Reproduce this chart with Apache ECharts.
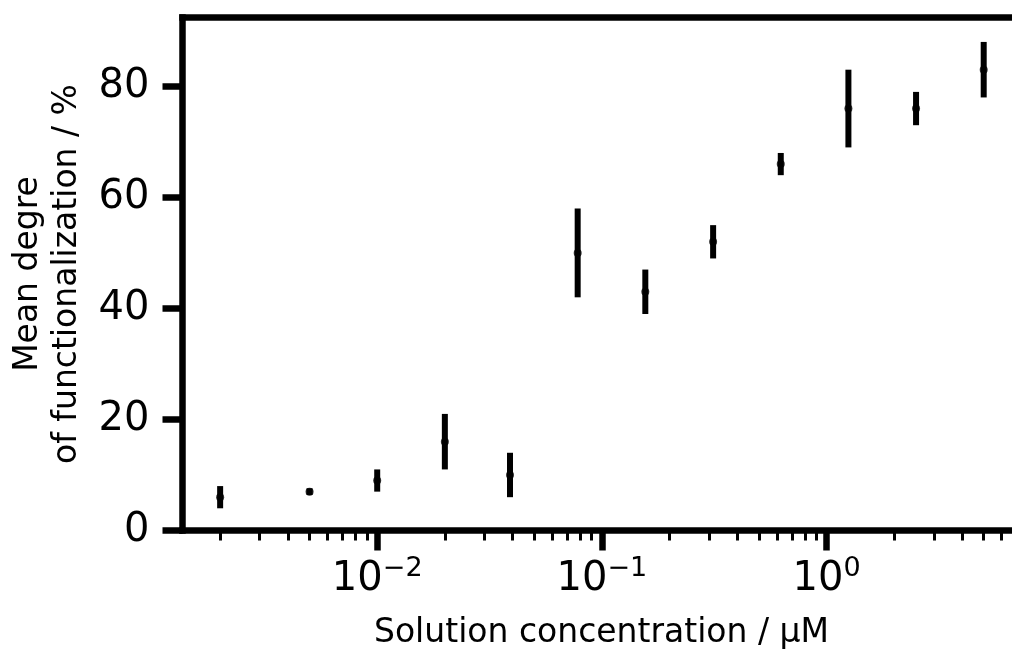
<!DOCTYPE html>
<html><head><meta charset="utf-8">
<script src="https://cdn.jsdelivr.net/npm/echarts@6/dist/echarts.min.js"></script>
<style>html,body{margin:0;padding:0;background:#fff}#c{width:1012px;height:652px}</style>
</head><body><div id="c"></div>
<script>
// Data
const concentrations = [0.002, 0.005, 0.01, 0.02, 0.039, 0.078, 0.156, 0.3125, 0.625, 1.25, 2.5, 5];
const meanDegree     = [6, 7, 9, 16, 10, 50, 43, 52, 66, 76, 76, 83];
const errorHalf      = [2, 0.6, 2, 5, 4, 8, 4, 3, 2, 7, 3, 5];
const xMajorTicks = [0.01, 0.1, 1];
const xMinorTicks = [0.002, 0.003, 0.004, 0.005, 0.006, 0.007, 0.008, 0.009,
                     0.02, 0.03, 0.04, 0.05, 0.06, 0.07, 0.08, 0.09,
                     0.2, 0.3, 0.4, 0.5, 0.6, 0.7, 0.8, 0.9,
                     2, 3, 4, 5, 6, 7];
const yTicks = [0, 20, 40, 60, 80];
const xRange = [0.00136, 7.29];
const yRange = [0, 92.4];
const xTitle = 'Solution concentration / μM';
const yTitle = 'Mean degre\nof functionalization / %';

const FONT = 'DejaVu Sans';
const BLACK = '#000';
const SPINE = 6.5;

const errData = concentrations.map((c, i) => [c, meanDegree[i] - errorHalf[i], meanDegree[i] + errorHalf[i]]);
const ptData = concentrations.map((c, i) => [c, meanDegree[i]]);

function sciLabel(v) {
  const e = Math.round(Math.log10(v));
  const s = e < 0 ? '\u2212' + (-e) : String(e);
  return '{b|10}{s|' + s + '}';
}

const chart = echarts.init(document.getElementById('c'), null, {renderer: 'canvas'});
chart.setOption({
  animation: false,
  backgroundColor: '#fff',
  grid: {left: 182.5, right: -8.5, top: 17.5, bottom: 652 - 530.5, containLabel: false,
         outerBoundsMode: 'none'},
  xAxis: [
    {
      type: 'log', logBase: 10, min: xRange[0], max: xRange[1], position: 'bottom',
      axisLine: {show: true, lineStyle: {color: BLACK, width: SPINE, cap: 'square'}},
      axisTick: {show: true, inside: false, length: 20, customValues: xMajorTicks,
                 lineStyle: {color: BLACK, width: 6.5}},
      minorTick: {show: false},
      splitLine: {show: false},
      axisLabel: {
        show: true, customValues: xMajorTicks, margin: 25, formatter: sciLabel,
        rich: {
          b: {fontFamily: FONT, fontSize: 40, color: BLACK, lineHeight: 44, verticalAlign: 'bottom'},
          s: {fontFamily: FONT, fontSize: 27, color: BLACK, lineHeight: 20, verticalAlign: 'top'}
        }
      },
      name: xTitle, nameLocation: 'middle', nameGap: 86,
      nameTextStyle: {fontFamily: FONT, fontSize: 33, color: BLACK, lineHeight: 33}
    },
    {
      type: 'log', logBase: 10, min: xRange[0], max: xRange[1], position: 'bottom',
      axisLine: {show: false},
      axisTick: {show: true, inside: false, length: 10, customValues: xMinorTicks,
                 lineStyle: {color: BLACK, width: 3}},
      axisLabel: {show: false},
      splitLine: {show: false}
    },
    {
      type: 'log', logBase: 10, min: xRange[0], max: xRange[1], position: 'top',
      axisLine: {show: true, lineStyle: {color: BLACK, width: SPINE, cap: 'square'}},
      axisTick: {show: false}, axisLabel: {show: false}, splitLine: {show: false}
    }
  ],
  yAxis: {
    type: 'value', min: yRange[0], max: yRange[1],
    axisLine: {show: true, lineStyle: {color: BLACK, width: SPINE, cap: 'square'}},
    axisTick: {show: true, inside: false, length: 20, customValues: yTicks,
               lineStyle: {color: BLACK, width: 6.5}},
    axisLabel: {show: true, customValues: yTicks, margin: 33,
                fontFamily: FONT, fontSize: 40, color: BLACK},
    splitLine: {show: false},
    name: yTitle, nameLocation: 'middle', nameGap: 96, nameRotate: 90,
    nameTextStyle: {fontFamily: FONT, fontSize: 33, color: BLACK, lineHeight: 39, align: 'center'}
  },
  series: [
    {
      type: 'custom', xAxisIndex: 0, yAxisIndex: 0, data: errData,
      encode: {x: 0, y: [1, 2]},
      renderItem: function (params, api) {
        const p1 = api.coord([api.value(0), api.value(1)]);
        const p2 = api.coord([api.value(0), api.value(2)]);
        return {type: 'line', shape: {x1: p1[0], y1: p1[1], x2: p2[0], y2: p2[1]},
                style: {stroke: BLACK, lineWidth: 6, lineCap: 'butt'}};
      },
      z: 3
    },
    {
      type: 'scatter', xAxisIndex: 0, yAxisIndex: 0, data: ptData,
      symbol: 'circle', symbolSize: 8,
      itemStyle: {color: BLACK, borderWidth: 0},
      z: 4
    }
  ]
});
</script></body></html>
